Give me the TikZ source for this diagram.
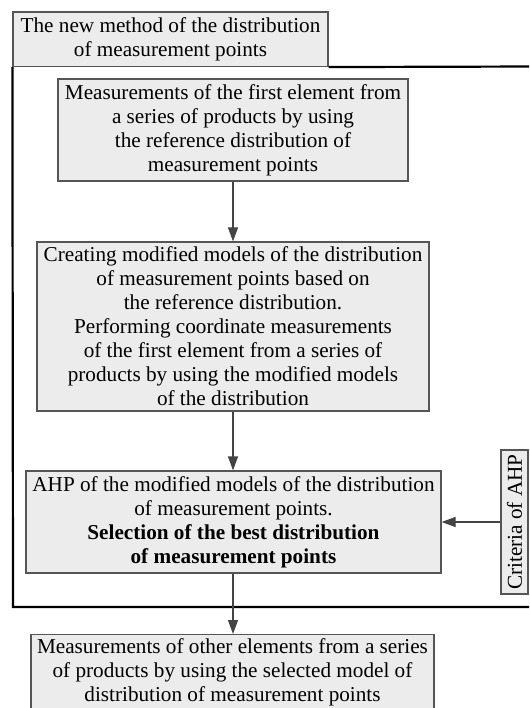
\documentclass[tikz,border=0pt]{standalone}
\usepackage{fontspec}
\setmainfont{Liberation Serif}
\usetikzlibrary{arrows.meta}
\definecolor{boxfill}{HTML}{EBECEB}
\definecolor{boxline}{HTML}{555555}
\definecolor{arrline}{HTML}{444444}
\begin{document}
\begin{tikzpicture}[x=1pt,y=-1pt,
  box/.style={draw=boxline, line width=1.2pt, fill=boxfill, align=center, inner sep=0pt,
    font=\fontsize{21.2}{24}\selectfont},
  frame/.style={draw=black, line width=2.2pt},
  conn/.style={draw=arrline, line width=1.2pt, -{Triangle[length=14pt,width=10pt]}}]
\useasboundingbox (0,0) rectangle (529,708);
\clip (0,0) rectangle (529,708);
\fill[white] (0,0) rectangle (529,708);
% frame
\node[box, minimum width=315pt, minimum height=54.5pt] (title) at (170.5,39.2)
  {The new method of the distribution\\of measurement points};
\coordinate (fr1) at (540,66.5);
\coordinate (fr2) at (13,607);
\coordinate (fr3) at (540,607);
\draw[frame] (title.south east) -- (fr1);
\draw[frame] (title.south west) -- (fr2) -- (fr3);
% boxes
\node[box, minimum width=350pt, minimum height=102pt] (b1) at (233,130)
  {Measurements of the first element from\\a series of products by using\\the reference distribution of\\measurement points};
\node[box, minimum width=392pt, minimum height=169pt] (b2) at (233,326.5)
  {Creating modified models of the distribution\\of measurement points based on\\the reference distribution.\\Performing coordinate measurements\\of the first element from a series of\\products by using the modified models\\of the distribution};
\node[box, minimum width=415pt, minimum height=102pt] (b3) at (233.5,522)
  {AHP of the modified models of the distribution\\of measurement points.\\\textbf{Selection of the best distribution}\\\textbf{of measurement points}};
\node[box, rotate=90, minimum width=144pt, minimum height=27pt] (crit) at (514.5,522)
  {Criteria of AHP};
\node[box, anchor=north, minimum width=403pt, inner ysep=4pt] (b4) at (232.5,634)
  {Measurements of other elements from a series\\of products by using the selected model of\\distribution of measurement points\\[4pt]};
% connectors
\draw[conn] (b1.south -| 233,0) -- (b2.north -| 233,0);
\draw[conn] (b2.south -| 233,0) -- (b3.north -| 233,0);
\draw[conn] (b3.south -| 233,0) -- (b4.north -| 233,0);
\draw[conn] (crit.north) -- (b3.east);
\end{tikzpicture}
\end{document}
